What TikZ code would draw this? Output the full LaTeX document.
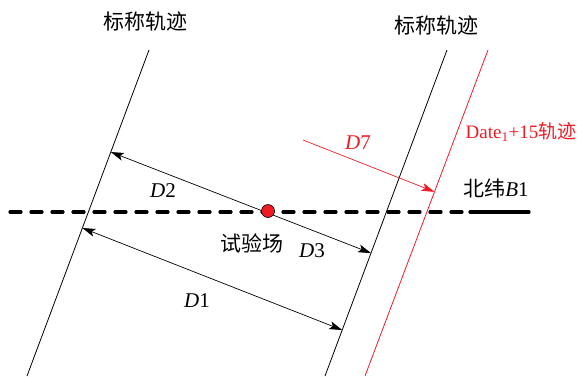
\documentclass[tikz,border=0pt]{standalone}
\usepackage{fontspec}
\setmainfont{Liberation Serif}
\newfontfamily\cjk{Noto Sans CJK SC}
\usetikzlibrary{positioning,arrows.meta,calc}
\definecolor{trackred}{RGB}{237,28,36}
\tikzset{
  lbl/.style={inner sep=0pt,font=\fontsize{21}{24}\selectfont},
  track/.style={line width=0.8pt},
  arr/.style={{Stealth[length=13pt,width=8pt,inset=3pt]}-{Stealth[length=13pt,width=8pt,inset=3pt]},line width=0.7pt},
  lat/.style={line width=3.2pt,line cap=round,dash pattern=on 11pt off 10pt}
}

\begin{document}
\begin{tikzpicture}[x=1pt,y=-1pt]
\useasboundingbox (0,0) rectangle (587,376);
% tracks
\coordinate (lt) at (149,50);
\coordinate (lb) at (27,376);
\coordinate (rt) at (447,50);
\coordinate (rb) at (325,376);
\coordinate (dt) at (488,50);
\coordinate (db) at (365,376);
\draw[track] (lt) -- (lb);
\draw[track] (rt) -- (rb);
\draw[track,trackred] (dt) -- (db);

% latitude line
\coordinate (w) at (10,212);
\coordinate (e) at (470,212);
\coordinate (ee) at (529,212);
\draw[lat] (w) -- (e);
\draw[line width=3.2pt,line cap=round] (e) -- (ee);

% distances
\coordinate (d2a) at ($(lt)!0.313!(lb)$);
\coordinate (d3b) at ($(rt)!0.623!(rb)$);
\coordinate (d1a) at ($(lt)!0.546!(lb)$);
\coordinate (d1b) at ($(rt)!0.859!(rb)$);
\draw[arr] (d2a) -- (d3b);
\draw[arr] (d1a) -- (d1b);
\coordinate (d7a) at (303,140);
\coordinate (d7b) at ($(dt)!0.435!(db)$);
\draw[trackred,line width=0.7pt,-{Stealth[length=13pt,width=8pt,inset=3pt]}] (d7a) -- (d7b);

% test site
\node[circle,draw,fill=trackred,line width=0.6pt,minimum size=13pt,inner sep=0pt] (site) at (268,211) {};

% labels
\node[lbl] (nom1) at (145,22) {\cjk 标称轨迹};
\node[lbl] (nom2) at (436,26) {\cjk 标称轨迹};
\node[lbl,trackred,font=\fontsize{19}{22}\selectfont] (dlab) at (521,132) {Date\textsubscript{1}+15{\cjk 轨迹}};
\node[lbl,trackred] (l7) at (358,143) {\textit{D}7};
\node[lbl] (lat1) at (496,188) {{\cjk 北纬}\textit{B}1};
\node[lbl] (l2) at (163,191) {\textit{D}2};
\node[lbl] (sitelab) at (252,243) {\cjk 试验场};
\node[lbl] (l3) at (312,251) {\textit{D}3};
\node[lbl] (l1) at (197,301) {\textit{D}1};
\end{tikzpicture}
\end{document}
